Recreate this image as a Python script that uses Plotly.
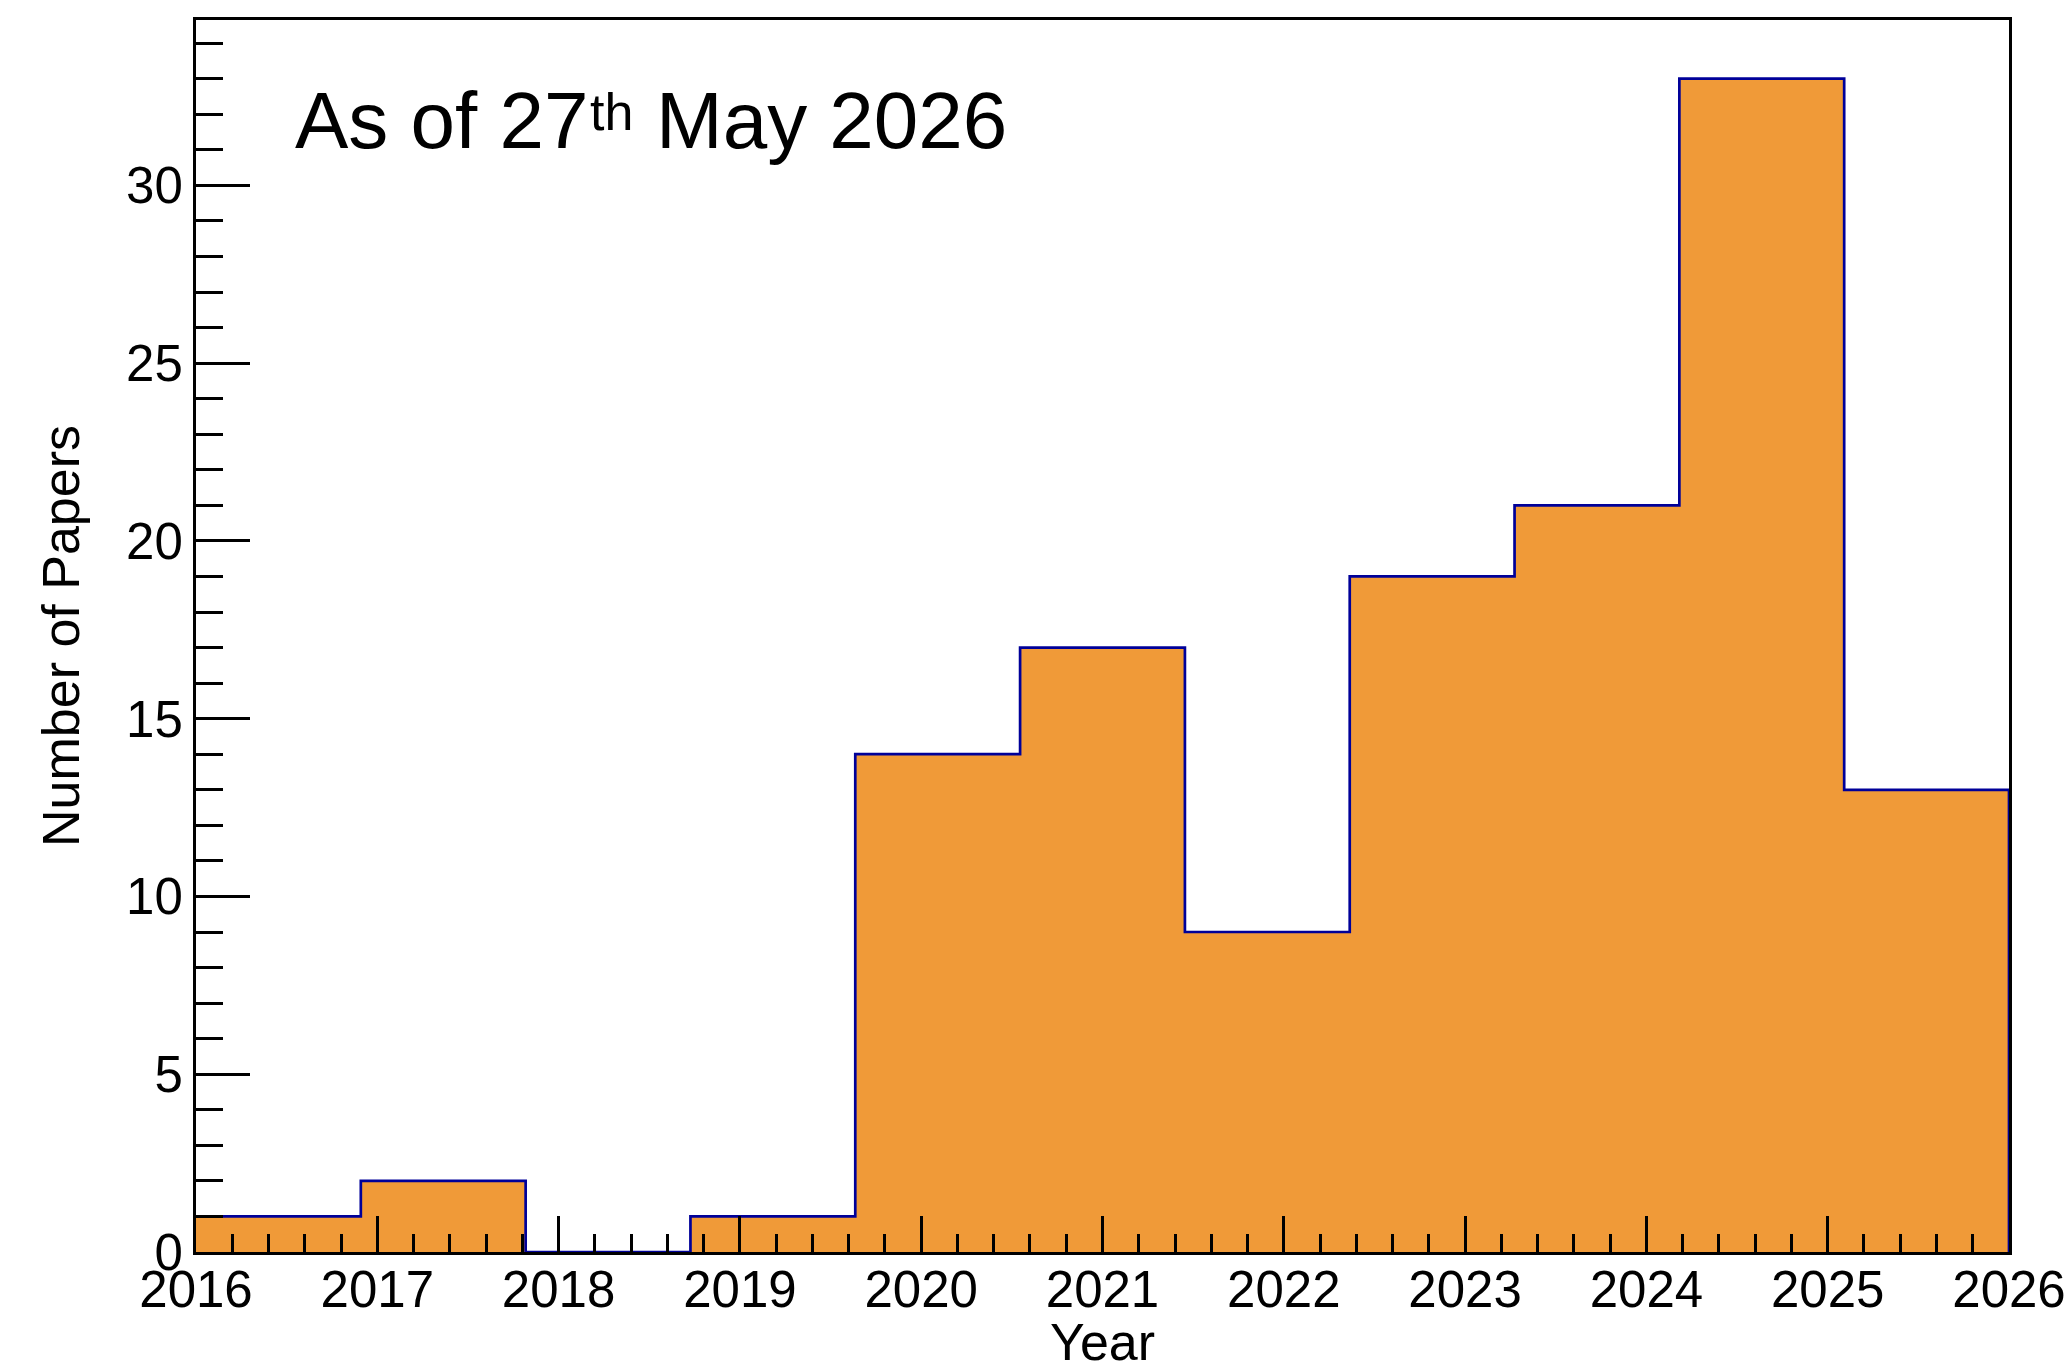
import numpy as np
import plotly.graph_objects as go

# Histogram: papers per year bin (11 bins spanning 2016-2026)
x_low, x_high, n_bins = 2016, 2026, 11
counts = [1, 2, 0, 1, 14, 17, 9, 19, 21, 33, 13]
x_tick_vals = [2016, 2017, 2018, 2019, 2020, 2021, 2022, 2023, 2024, 2025, 2026]
x_tick_text = [str(v) for v in x_tick_vals]
y_tick_vals = [0, 5, 10, 15, 20, 25, 30]

edges = np.linspace(x_low, x_high, n_bins + 1)
step_x = list(edges) + [x_high]
step_y = counts + [counts[-1], 0]

FONT = "Liberation Sans, Arial, Helvetica, sans-serif"
FILL = "#F09A38"
EDGE = "#000099"

W, H = 2069, 1361
ML, MR, MT, MB = 196, 60, 20, 109
PW, PH = W - ML - MR, H - MT - MB


def px_x(p):
    """Pixel column -> paper x."""
    return (p - ML) / PW


def px_y(p):
    """Pixel row -> paper y."""
    return 1 - (p - MT) / PH


fig = go.Figure()
fig.add_trace(go.Scatter(
    x=step_x,
    y=step_y[:len(step_x)],
    mode="lines",
    line=dict(shape="hv", color=EDGE, width=2.7),
    fill="tozeroy",
    fillcolor=FILL,
    hoverinfo="skip",
    showlegend=False,
))

y_max = max(counts) * 1.05

fig.update_layout(
    width=W,
    height=H,
    margin=dict(l=ML, r=MR, t=MT, b=MB, autoexpand=False),
    paper_bgcolor="white",
    plot_bgcolor="white",
    font=dict(family=FONT, color="black", size=51),
    xaxis=dict(
        range=[x_low, x_high],
        automargin=False,
        tickvals=x_tick_vals,
        ticktext=x_tick_text,
        ticks="inside",
        ticklen=36,
        tickwidth=3,
        tickcolor="black",
        ticklabelstandoff=-9,
        showline=True,
        linecolor="black",
        linewidth=3,
        mirror=True,
        showgrid=False,
        zeroline=False,
        tickfont=dict(size=51, family=FONT),
        minor=dict(ticks="inside", dtick=0.2, tick0=2016, ticklen=18,
                   tickwidth=3, tickcolor="black", showgrid=False),
    ),
    yaxis=dict(
        range=[0, y_max],
        automargin=False,
        tickvals=y_tick_vals,
        ticks="inside",
        ticklen=54,
        tickwidth=3,
        tickcolor="black",
        showline=True,
        linecolor="black",
        linewidth=3,
        mirror=True,
        showgrid=False,
        zeroline=False,
        tickfont=dict(size=51, family=FONT),
        minor=dict(ticks="inside", dtick=1, tick0=0, ticklen=27,
                   tickwidth=3, tickcolor="black", showgrid=False),
    ),
)

# Date stamp, with a hand-placed ordinal suffix
stamp = dict(xref="paper", yref="paper", xanchor="left", yanchor="middle",
             showarrow=False)
fig.add_annotation(text="As of 27", x=px_x(293), y=px_y(121),
                   font=dict(size=80, family=FONT, color="black"), **stamp)
fig.add_annotation(text="th", x=px_x(588), y=px_y(112),
                   font=dict(size=52, family=FONT, color="black"), **stamp)
fig.add_annotation(text="May 2026", x=px_x(654), y=px_y(121),
                   font=dict(size=80, family=FONT, color="black"), **stamp)

fig.add_annotation(
    text="Year",
    xref="paper", yref="paper",
    x=px_x(1102), y=px_y(1342),
    xanchor="center", yanchor="middle",
    showarrow=False,
    font=dict(size=52, family=FONT, color="black"),
)

fig.add_annotation(
    text="Number of Papers",
    xref="paper", yref="paper",
    x=px_x(61), y=0.5,
    xanchor="center", yanchor="middle",
    textangle=-90,
    showarrow=False,
    font=dict(size=52, family=FONT, color="black"),
)

fig.write_html("out.html")
